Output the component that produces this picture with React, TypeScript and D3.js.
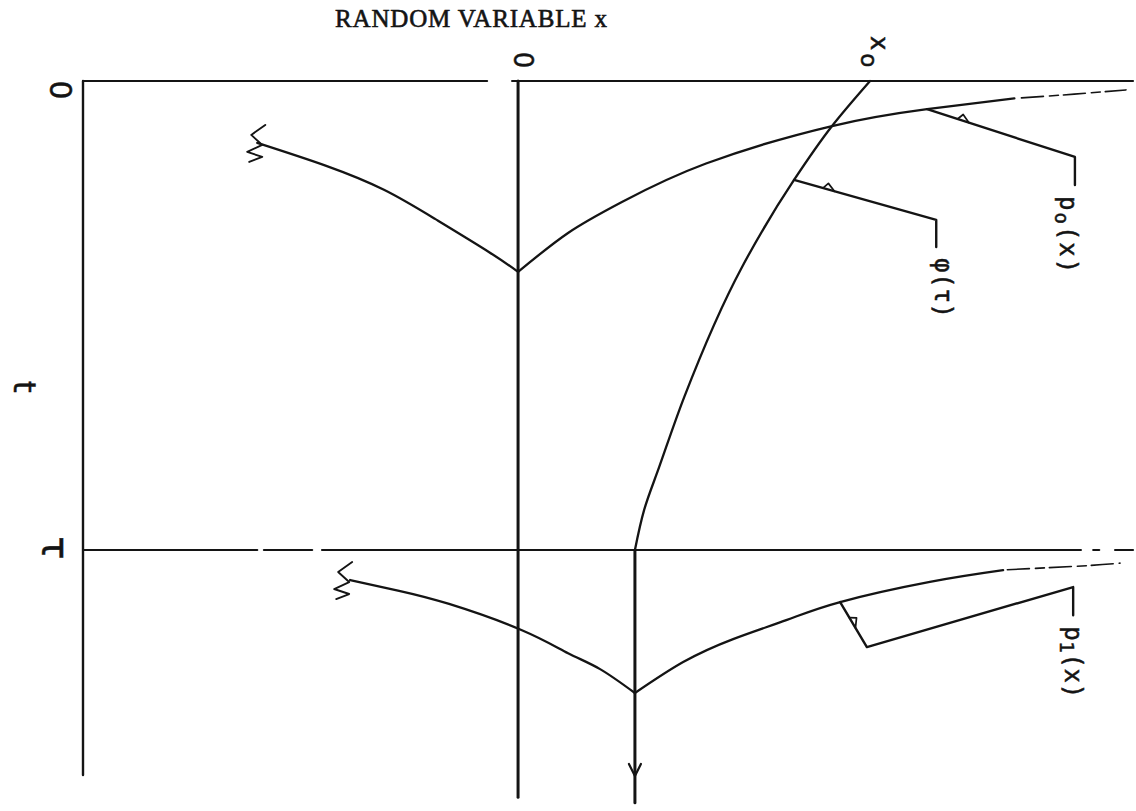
import React, { useEffect, useRef } from 'react'
import * as d3 from 'd3'

// x: random variable (0 at origin, 1 = x0), t: time (0 at origin, 1 = tau)
const xDomain = [-1.236, 1.747]
const tEnd = 1.48
const zeroLineEnd = 1.527
const arrowEnd = 1.539
const arrowAt = 1.469

// top axis is broken around the "0" label, tau line has a few scan gaps
const topSegments = [[-1.236, -0.088], [-0.017, 1.747]]
const tauSegments = [[-1.236, -0.741], [-0.722, -0.585], [-0.557, 1.599], [1.634, 1.651], [1.696, 1.747]]

// p0(x): density at t = 0 region, cusp at x = 0
const p0Left = [[-0.741, 0.132], [-0.545, 0.181], [-0.381, 0.232], [-0.236, 0.294], [-0.082, 0.365], [0, 0.407]]
const p0Right = [[0, 0.407], [0.142, 0.324], [0.295, 0.258], [0.534, 0.176], [0.892, 0.096], [1.162, 0.06], [1.41, 0.037]]
const p0Tail = [[1.43, 0.036], [1.58, 0.028], [1.727, 0.019]]

// phi(t): runs from x0 at t = 0 to phi(tau) at t = tau
const phi = [[1, 0], [0.892, 0.096], [0.784, 0.211], [0.636, 0.397], [0.472, 0.674], [0.401, 0.823], [0.358, 0.915], [0.332, 1]]

// p1(x): density after tau, cusp at phi(tau)
const p1Left = [[-0.477, 1.064], [-0.338, 1.087], [-0.196, 1.115], [0.011, 1.171], [0.142, 1.22], [0.233, 1.254], [0.332, 1.305]]
const p1Right = [[0.332, 1.305], [0.469, 1.239], [0.611, 1.19], [0.764, 1.149], [0.915, 1.111], [1.17, 1.068], [1.378, 1.043]]
const p1Tail = [[1.39, 1.042], [1.602, 1.034], [1.71, 1.028]]

// leader lines from curves to their labels
const phiLeader = [[0.784, 0.211], [1.188, 0.296], [1.188, 0.354]]
const p0Leader = [[1.162, 0.06], [1.582, 0.162], [1.582, 0.222]]
const p1Leader = [[0.915, 1.111], [0.991, 1.207], [1.577, 1.079], [1.577, 1.139]]

const xTickValues = [0, 1]
const xTickLabels = [['0', ''], ['x', 'o']]
const tTickValues = [0, 1]
const tTickLabels = ['0', 'τ']

const App = () => {
  const root = useRef(null)

  useEffect(() => {
    const svg = d3.select(root.current)
    svg.selectAll('*').remove()

    const x = d3.scaleLinear().domain(xDomain).range([83, 1133])
    const t = d3.scaleLinear().domain([0, 1]).range([81, 550])
    const ink = '#141414'

    const line = d3.line()
      .x((d) => x(d[0]))
      .y((d) => t(d[1]))
    const curveX = d3.line()
      .x((d) => x(d[0]))
      .y((d) => t(d[1]))
      .curve(d3.curveNatural)
    const curveY = d3.line()
      .x((d) => x(d[0]))
      .y((d) => t(d[1]))
      .curve(d3.curveMonotoneY)

    const g = svg.append('g')
      .attr('fill', 'none')
      .attr('stroke', ink)
      .attr('stroke-linecap', 'round')
      .attr('stroke-linejoin', 'round')

    // frame
    g.append('path').attr('d', line([[xDomain[0], 0], [xDomain[0], tEnd]])).attr('stroke-width', 2.4)
    topSegments.forEach((s) => {
      g.append('path').attr('d', line([[s[0], 0], [s[1], 0]])).attr('stroke-width', 2.2)
    })
    tauSegments.forEach((s) => {
      g.append('path').attr('d', line([[s[0], 1], [s[1], 1]])).attr('stroke-width', 2.2)
    })
    g.append('path').attr('d', line([[0, 0], [0, zeroLineEnd]])).attr('stroke-width', 3)

    // phi(tau) arrow
    const phiTau = phi[phi.length - 1][0]
    g.append('path').attr('d', line([[phiTau, 1], [phiTau, arrowEnd]])).attr('stroke-width', 3)
    const ax = x(phiTau)
    const ay = t(arrowAt)
    g.append('path')
      .attr('d', `M${ax - 6},${ay - 6}L${ax},${ay + 6}L${ax + 6},${ay - 6}`)
      .attr('stroke-width', 2.2)

    // curves
    ;[p0Left, p0Right, p1Left, p1Right].forEach((c) => {
      g.append('path').attr('d', curveX(c)).attr('stroke-width', 2.3)
    })
    g.append('path').attr('d', curveY(phi)).attr('stroke-width', 2.3)
    ;[p0Tail, p1Tail].forEach((c) => {
      g.append('path').attr('d', curveX(c))
        .attr('stroke-width', 1.6)
        .attr('stroke-dasharray', '22 6 9 5')
    })

    // break marks at the left ends of the densities
    const mark = [[8, -18], [-6, -8], [5, 2], [-10, 9], [5, 14], [-8, 19]]
    ;[p0Left[0], p1Left[0]].forEach((p, i) => {
      const sx = x(p[0]) - (i === 0 ? 0 : 6)
      const sy = t(p[1])
      g.append('path')
        .attr('d', d3.line()(mark.map((m) => [sx + m[0], sy + m[1]])))
        .attr('stroke-width', 1.9)
    })

    // leaders with their small ticks
    const leaders = [
      { pts: phiLeader, at: 30, side: 1 },
      { pts: p0Leader, at: 32, side: 1 },
      { pts: p1Leader, at: 18, side: 1 }
    ]
    leaders.forEach((l) => {
      g.append('path').attr('d', line(l.pts)).attr('stroke-width', 2.4)
      const x0 = x(l.pts[0][0])
      const y0 = t(l.pts[0][1])
      const dx = x(l.pts[1][0]) - x0
      const dy = t(l.pts[1][1]) - y0
      const len = Math.hypot(dx, dy)
      const ux = dx / len
      const uy = dy / len
      const nx = uy * l.side
      const ny = -ux * l.side
      const b1 = [x0 + ux * l.at, y0 + uy * l.at]
      const b2 = [x0 + ux * (l.at + 12), y0 + uy * (l.at + 12)]
      const apex = [x0 + ux * (l.at + 4) + nx * 6, y0 + uy * (l.at + 4) + ny * 6]
      g.append('path')
        .attr('d', `M${b1[0]},${b1[1]}L${apex[0]},${apex[1]}L${b2[0]},${b2[1]}`)
        .attr('stroke-width', 1.7)
    })

    // title
    svg.append('text')
      .attr('x', 471)
      .attr('y', 27)
      .attr('text-anchor', 'middle')
      .attr('font-family', '"Liberation Serif", serif')
      .attr('font-size', 25)
      .attr('textLength', 272)
      .attr('lengthAdjust', 'spacing')
      .attr('fill', ink)
      .attr('stroke', ink)
      .attr('stroke-width', 0.6)
      .text('RANDOM VARIABLE x')

    const labels = svg.append('g')
      .attr('fill', ink)
      .attr('stroke', ink)
      .attr('stroke-width', 0.5)
      .attr('font-family', '"DejaVu Sans", sans-serif')

    const rotated = (px, py, anchor, size) => labels.append('text')
      .attr('transform', `translate(${px},${py}) rotate(90)`)
      .attr('text-anchor', anchor)
      .attr('dominant-baseline', 'central')
      .attr('font-size', size)

    // x axis tick labels (above the top line)
    xTickValues.forEach((v, i) => {
      const [main, sub] = xTickLabels[i]
      if (!sub) {
        rotated(x(v) + 5, 60, 'middle', 26).text(main)
      } else {
        const txt = rotated(x(v) + 9, 36, 'start', 24)
        txt.append('tspan').text(main)
        txt.append('tspan').attr('dy', 10).attr('dx', 3).attr('font-size', 23).text(sub)
      }
    })

    // t axis labels (left of the frame)
    rotated(60, t(tTickValues[0]) + 9, 'middle', 30).text(tTickLabels[0])
    rotated(55, t(tTickValues[1]) - 2, 'middle', 38).text(tTickLabels[1])
    rotated(24, t(0.652), 'middle', 30).text('t')

    // curve labels
    const mono = '"DejaVu Sans Mono", monospace'
    const label = (pts, dx, main, sub, rest, len) => {
      const end = pts[pts.length - 1]
      const txt = rotated(x(end[0]) + dx, t(end[1]) + 11, 'start', 24)
        .attr('font-family', mono)
        .attr('textLength', len)
        .attr('lengthAdjust', 'spacing')
      txt.append('tspan').text(main)
      if (sub) {
        txt.append('tspan').attr('dy', 6).attr('font-size', 19).text(sub)
        txt.append('tspan').attr('dy', -6).text(rest)
      } else {
        txt.append('tspan').text(rest)
      }
    }
    label(p0Leader, -7, 'p', 'o', '(x)', 77)
    label(phiLeader, 7, 'φ', '', '(τ)', 60)
    label(p1Leader, 0, 'p', '1', '(x)', 72)
  }, [])

  return (
    <svg
      ref={root}
      width={1136}
      height={811}
      style={{ position: 'absolute', left: 0, top: 0, background: '#fff' }}
    />
  )
}

export default App
